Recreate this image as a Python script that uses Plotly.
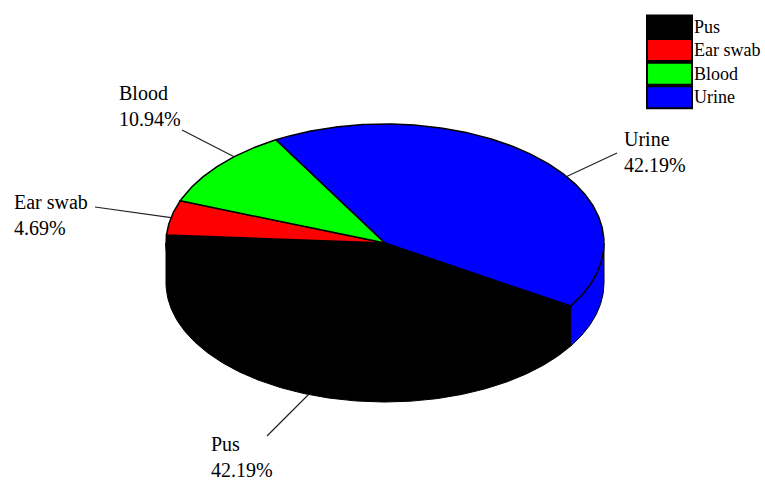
import numpy as np
import plotly.graph_objects as go

# ---- data ----
categories = ["Pus", "Ear swab", "Blood", "Urine"]
values = [42.19, 4.69, 10.94, 42.19]
pct_labels = ["42.19%", "4.69%", "10.94%", "42.19%"]
colors = ["#000000", "#ff0000", "#00ff00", "#0000ff"]

# ---- geometry / style (pixels) ----
W, H = 765, 480
CX, CY, RX, RY, DEPTH = 385, 243, 219, 119, 40
START = 328.0            # start angle (deg), slices run clockwise
leader_shift = [-2.5, 0.0, -6.0, -10.0]   # angular nudge of leader anchors
label_pos = [(209, 431), (12, 189), (117, 80), (622, 126)]   # text top-left
leader_end = [(267, 436), (95, 207), (182, 130), (617, 153)]
FONT = "Liberation Serif"


def ell(a, dz=0.0):
    r = np.radians(a)
    return CX + RX * np.cos(r), CY - RY * np.sin(r) + dz


def arc(a0, a1, dz=0.0):
    n = max(2, int(abs(a1 - a0) * 2) + 1)
    aa = np.linspace(a0, a1, n)
    xs, ys = ell(aa, dz)
    return list(xs), list(ys)


total = sum(values)
spans = [v / total * 360.0 for v in values]
intervals = []
cur = START
for s in spans:
    intervals.append((cur - s, cur))
    cur -= s

fig = go.Figure()

# side walls (front half: angles 180..360 or -180..0)
for (lo, hi), col in zip(intervals, colors):
    for f0, f1 in [(-180.0, 0.0), (180.0, 360.0)]:
        a0, a1 = max(lo, f0), min(hi, f1)
        if a1 - a0 <= 0:
            continue
        tx, ty = arc(a0, a1)
        bx, by = arc(a1, a0, DEPTH)
        xs = tx + bx + [tx[0]]
        ys = ty + by + [ty[0]]
        fig.add_trace(go.Scatter(x=xs, y=ys, mode="lines", fill="toself",
                                 fillcolor=col, line=dict(color="#000000", width=1),
                                 hoverinfo="skip", showlegend=False))

# top faces
for (lo, hi), col, cat in zip(intervals, colors, categories):
    ax_, ay_ = arc(lo, hi)
    xs = [CX] + ax_ + [CX]
    ys = [CY] + ay_ + [CY]
    fig.add_trace(go.Scatter(x=xs, y=ys, mode="lines", fill="toself",
                             fillcolor=col, line=dict(color="#000000", width=1.5),
                             name=cat, hoverinfo="skip", showlegend=False))

# leader lines + labels
anns = []
for i, ((lo, hi), cat, pct) in enumerate(zip(intervals, categories, pct_labels)):
    mid = (lo + hi) / 2.0 + leader_shift[i]
    front = np.sin(np.radians(mid)) < 0
    px, py = ell(mid, DEPTH if front else 0.0)
    ex, ey = leader_end[i]
    fig.add_trace(go.Scatter(x=[ex, px], y=[ey, py], mode="lines",
                             line=dict(color="#222222", width=1.2),
                             hoverinfo="skip", showlegend=False))
    lx, ly = label_pos[i]
    anns.append(dict(x=lx, y=ly, xref="x", yref="y", xanchor="left", yanchor="top",
                     text=f"{cat}<br>{pct}", showarrow=False, align="left",
                     font=dict(family=FONT, size=20, color="#000000")))

# legend (drawn manually)
shapes = []
for i, (cat, col) in enumerate(zip(categories, colors)):
    y0 = 15.5 + i * 23.6
    y1 = y0 + 22
    shapes.append(dict(type="rect", xref="x", yref="y", x0=647, x1=692, y0=y0, y1=y1,
                       fillcolor=col, line=dict(color="#000000", width=2)))
    anns.append(dict(x=692, y=(y0 + y1) / 2, xref="x", yref="y", xanchor="left",
                     yanchor="middle", text=cat, showarrow=False,
                     font=dict(family=FONT, size=18, color="#000000")))

fig.update_layout(
    width=W, height=H, margin=dict(l=0, r=0, t=0, b=0),
    paper_bgcolor="white", plot_bgcolor="white", showlegend=False,
    xaxis=dict(range=[0, W], visible=False, fixedrange=True),
    yaxis=dict(range=[H, 0], visible=False, fixedrange=True),
    shapes=shapes, annotations=anns,
)

fig.write_html("out.html", config={"displayModeBar": False},
               post_script="document.body.style.margin='0px';document.body.style.overflow='hidden';")
